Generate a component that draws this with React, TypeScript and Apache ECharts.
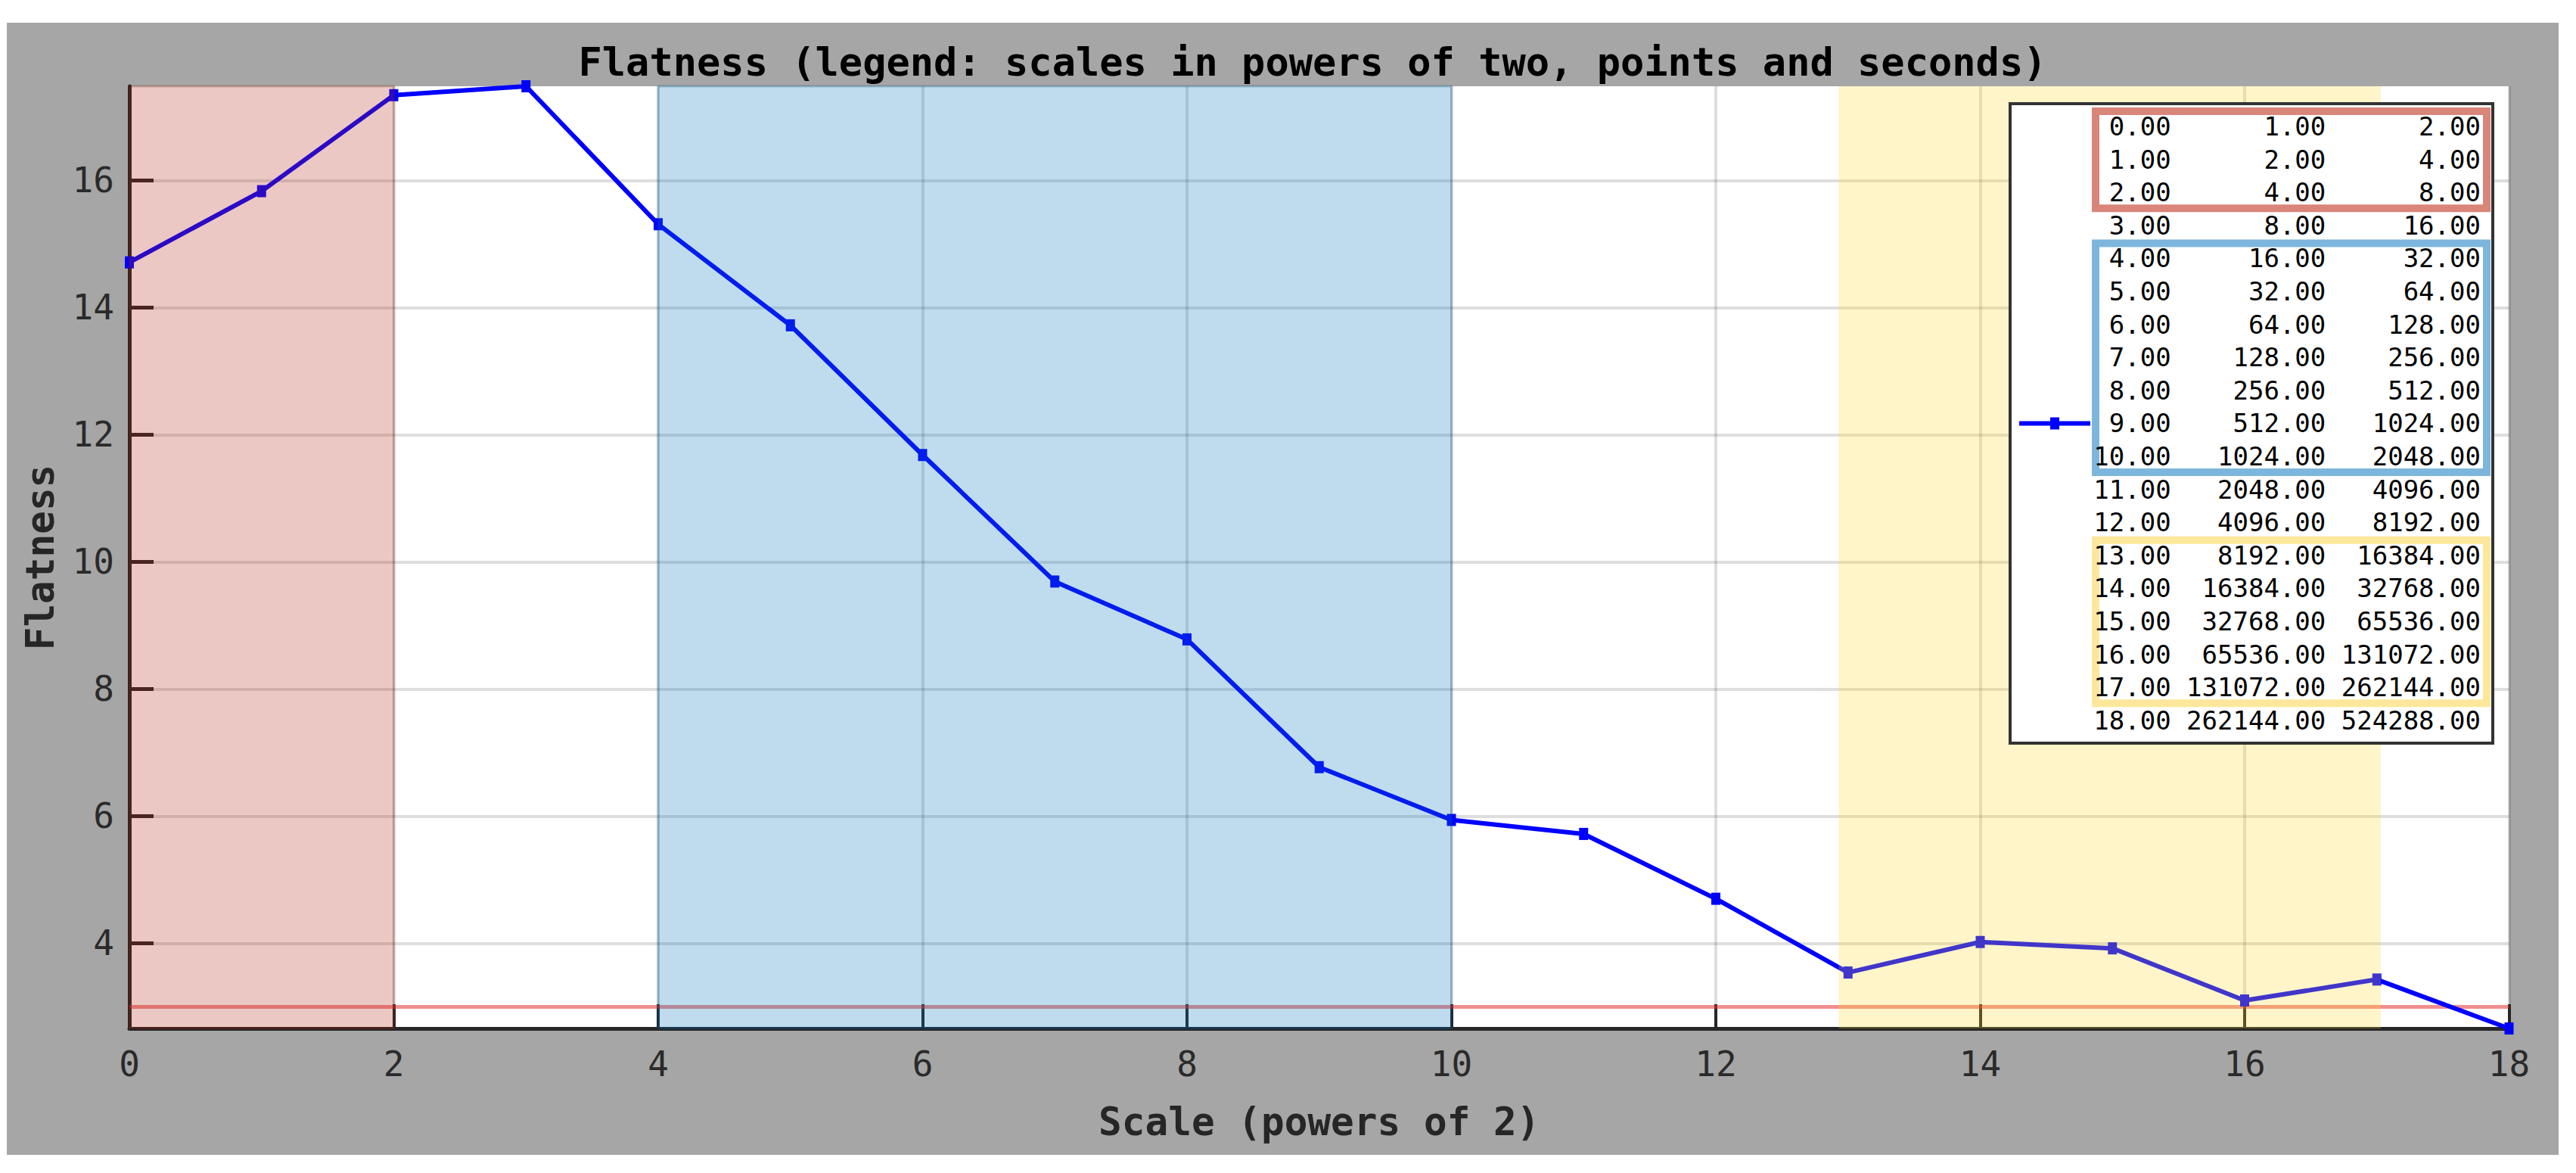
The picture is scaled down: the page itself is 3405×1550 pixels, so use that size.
import React, { useEffect, useRef } from 'react';
import * as echarts from 'echarts';

// ---- data ----
const X_SCALES = [0, 1, 2, 3, 4, 5, 6, 7, 8, 9, 10, 11, 12, 13, 14, 15, 16, 17, 18];
const FLATNESS = [14.71, 15.83, 17.34, 17.48, 15.31, 13.72, 11.68, 9.69, 8.78, 6.77, 5.94, 5.72, 4.70, 3.54, 4.02, 3.92, 3.10, 3.43, 2.66];
const GAUSSIAN_FLATNESS = 3;
const X_TICKS = [0, 2, 4, 6, 8, 10, 12, 14, 16, 18];
const Y_TICKS = [4, 6, 8, 10, 12, 14, 16];
const RED_BAND = [0, 2];
const BLUE_BAND = [4, 10];
const YELLOW_BAND = [12.93, 17.03];
const LEGEND_SCALES = [0, 1, 2, 3, 4, 5, 6, 7, 8, 9, 10, 11, 12, 13, 14, 15, 16, 17, 18];
const LEGEND_POINTS = [1, 2, 4, 8, 16, 32, 64, 128, 256, 512, 1024, 2048, 4096, 8192, 16384, 32768, 65536, 131072, 262144];
const LEGEND_SECONDS = [2, 4, 8, 16, 32, 64, 128, 256, 512, 1024, 2048, 4096, 8192, 16384, 32768, 65536, 131072, 262144, 524288];
const LEGEND_GROUPS = [
  [0, 2],
  [4, 10],
  [13, 17],
];
const TITLE = 'Flatness (legend: scales in powers of two, points and seconds)';
const X_NAME = 'Scale (powers of 2)';
const Y_NAME = 'Flatness';

// ---- styles / layout ----
const MONO = '"DejaVu Sans Mono", "Liberation Mono", monospace';
const GROUP_COLORS = ['#d9857a', '#7db6dc', '#fde79a'];
const BAND_FILLS = ['rgba(175,35,20,0.25)', 'rgba(0,114,189,0.25)', 'rgba(255,215,40,0.25)'];
const BAND_BORDERS = ['rgba(110,30,20,0.25)', 'rgba(0,70,120,0.25)', 'rgba(0,0,0,0)'];

export default function App() {
  const ref = useRef<HTMLDivElement>(null);

  useEffect(() => {
    document.body.style.margin = '0';
    const chart = echarts.init(ref.current as HTMLDivElement, null, { renderer: 'svg' });

    const points = X_SCALES.map((x, i) => [x, FLATNESS[i]]);

    // legend graphics
    const legendX = 2648;
    const legendY = 107;
    const legendW = 638;
    const legendH = 845;
    const row0 = 137;
    const rowStep = 43.6;
    const textRight = 3270;
    const rowY = (i: number) => row0 + rowStep * i;

    const legendEls: any[] = [
      {
        type: 'rect',
        z: 100,
        shape: { x: legendX, y: legendY, width: legendW, height: legendH },
        style: { fill: '#ffffff', stroke: '#333333', lineWidth: 4 },
      },
    ];
    LEGEND_GROUPS.forEach((g, k) => {
      const top = rowY(g[0]) - 20;
      const bottom = rowY(g[1]) + 21;
      legendEls.push({
        type: 'rect',
        z: 101,
        shape: { x: 2761, y: top, width: 3278 - 2761, height: bottom - top },
        style: { fill: 'none', stroke: GROUP_COLORS[k], lineWidth: 10 },
      });
    });
    LEGEND_SCALES.forEach((s, i) => {
      const txt =
        s.toFixed(2).padStart(5, ' ') +
        ' ' +
        LEGEND_POINTS[i].toFixed(2).padStart(9, ' ') +
        ' ' +
        LEGEND_SECONDS[i].toFixed(2).padStart(9, ' ');
      legendEls.push({
        type: 'text',
        z: 102,
        x: textRight,
        y: rowY(i),
        style: {
          text: txt,
          font: '34px ' + MONO,
          fill: '#000000',
          textAlign: 'right',
          textVerticalAlign: 'middle',
        },
      });
    });
    const midY = legendY + legendH / 2;
    legendEls.push({
      type: 'line',
      z: 102,
      shape: { x1: 2660, y1: midY, x2: 2754, y2: midY },
      style: { stroke: '#0000ff', lineWidth: 6 },
    });
    legendEls.push({
      type: 'rect',
      z: 103,
      shape: { x: 2701, y: midY - 8, width: 12, height: 16 },
      style: { fill: '#0000ff' },
    });

    const bands = [RED_BAND, BLUE_BAND, YELLOW_BAND];

    const option: any = {
      animation: false,
      backgroundColor: '#a6a6a6',
      textStyle: { fontFamily: MONO },
      grid: {
        left: 162,
        right: 65.5,
        top: 84,
        bottom: 167,
        show: true,
        backgroundColor: '#ffffff',
        borderWidth: 0,
      },
      graphic: [
        {
          type: 'text',
          z: 50,
          x: 1726,
          y: 52,
          style: {
            text: TITLE,
            font: 'bold 52px ' + MONO,
            fill: '#000000',
            textAlign: 'center',
            textVerticalAlign: 'middle',
          },
        },
        ...legendEls,
      ],
      xAxis: {
        type: 'value',
        min: 0,
        max: 18,
        interval: 2,
        name: X_NAME,
        nameLocation: 'middle',
        nameGap: 98,
        nameTextStyle: { fontFamily: MONO, fontSize: 51, fontWeight: 'bold', color: '#262626' },
        axisLine: { show: true, onZero: false, lineStyle: { color: '#262626', width: 5 } },
        axisTick: { show: true, inside: true, length: 32, lineStyle: { color: '#262626', width: 4 } },
        axisLabel: {
          fontFamily: MONO,
          fontSize: 46,
          color: '#2a2a2a',
          margin: 24,
          customValues: X_TICKS,
        },
        splitLine: { show: true, lineStyle: { color: 'rgba(0,0,0,0.13)', width: 4 } },
      },
      yAxis: {
        type: 'value',
        min: 'dataMin',
        max: 'dataMax',
        splitNumber: 7,
        name: Y_NAME,
        nameLocation: 'middle',
        nameGap: 92,
        nameTextStyle: { fontFamily: MONO, fontSize: 51, fontWeight: 'bold', color: '#262626' },
        axisLine: { show: true, lineStyle: { color: '#262626', width: 5 } },
        axisTick: {
          show: true,
          inside: true,
          length: 32,
          customValues: Y_TICKS,
          lineStyle: { color: '#262626', width: 5 },
        },
        axisLabel: {
          fontFamily: MONO,
          fontSize: 46,
          color: '#2a2a2a',
          margin: 20,
          customValues: Y_TICKS,
        },
        splitLine: {
          show: true,
          lineStyle: { color: 'rgba(0,0,0,0.13)', width: 4 },
        },
      },
      series: [
        {
          type: 'line',
          name: 'Flatness',
          data: points,
          z: 3,
          clip: false,
          symbol: 'rect',
          symbolSize: [12, 16],
          lineStyle: { color: '#0000ff', width: 6 },
          itemStyle: { color: '#0000ff' },
          markLine: {
            silent: true,
            z: 1,
            symbol: 'none',
            label: { show: false },
            lineStyle: { color: 'rgba(228,50,50,0.55)', width: 5, type: 'solid' },
            data: [{ yAxis: GAUSSIAN_FLATNESS }],
          },
        },
        {
          type: 'line',
          name: 'bands',
          data: points,
          z: 10,
          silent: true,
          symbol: 'none',
          lineStyle: { opacity: 0 },
          markArea: {
            silent: true,
            z: 10,
            data: bands.map((b, k) => [
              {
                xAxis: b[0],
                itemStyle: { color: BAND_FILLS[k], borderColor: BAND_BORDERS[k], borderWidth: 3 },
              },
              { xAxis: b[1] },
            ]),
          },
        },
      ],
    };

    chart.setOption(option);
    return () => chart.dispose();
  }, []);

  return (
    <div style={{ position: 'relative', width: 3405, height: 1550, background: '#ffffff' }}>
      <div ref={ref} style={{ position: 'absolute', left: 9, top: 30, width: 3373, height: 1496 }} />
    </div>
  );
}
